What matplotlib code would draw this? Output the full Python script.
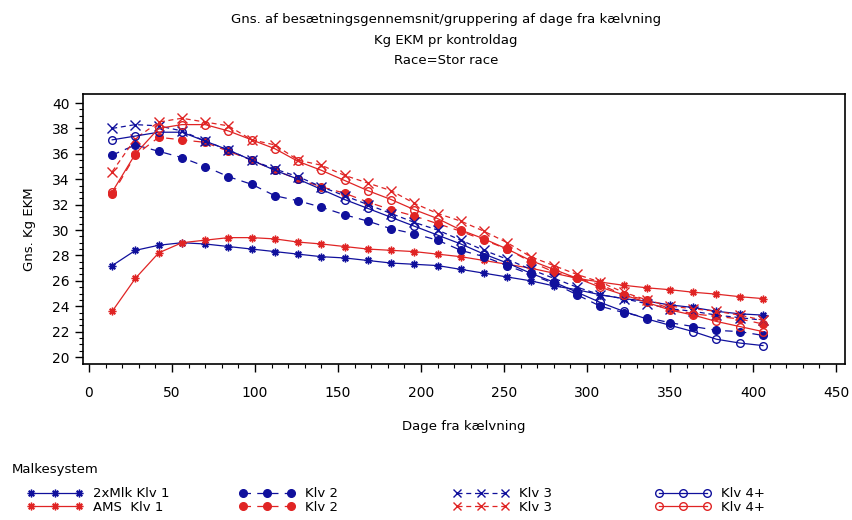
import numpy as np
import matplotlib
matplotlib.use("Agg")
import matplotlib.pyplot as plt
from matplotlib.lines import Line2D

# dage fra kaelvning (hver 14. dag)
dage = np.arange(14, 407, 14)

mlk_klv1 = [27.2, 28.4, 28.8, 29.0, 28.9, 28.7, 28.5, 28.3, 28.1, 27.9, 27.8, 27.6, 27.4, 27.3, 27.2,
            26.9, 26.6, 26.3, 26.0, 25.6, 25.3, 24.9, 24.6, 24.4, 24.1, 23.9, 23.6, 23.4, 23.3]
ams_klv1 = [23.6, 26.2, 28.2, 29.0, 29.2, 29.4, 29.4, 29.3, 29.05, 28.9, 28.7, 28.5, 28.4, 28.3, 28.1,
            27.9, 27.6, 27.3, 27.0, 26.6, 26.2, 25.9, 25.65, 25.45, 25.3, 25.1, 24.95, 24.75, 24.6]
mlk_klv2 = [35.9, 36.7, 36.2, 35.7, 35.0, 34.2, 33.6, 32.7, 32.3, 31.8, 31.2, 30.7, 30.1, 29.7, 29.2,
            28.4, 27.9, 27.2, 26.5, 25.8, 24.9, 24.0, 23.5, 23.1, 22.7, 22.4, 22.1, 22.0, 21.7]
ams_klv2 = [32.8, 35.9, 37.3, 37.1, 36.9, 36.2, 35.5, 34.7, 34.0, 33.4, 32.9, 32.2, 31.6, 31.1, 30.5,
            29.9, 29.2, 28.5, 27.5, 26.7, 26.2, 25.7, 24.9, 24.5, 23.8, 23.4, 23.2, 23.0, 22.6]
mlk_klv3 = [38.0, 38.3, 38.2, 37.8, 37.0, 36.3, 35.5, 34.8, 34.2, 33.4, 32.7, 32.0, 31.3, 30.6, 30.0,
            29.2, 28.4, 27.7, 26.9, 26.2, 25.5, 24.9, 24.6, 24.2, 23.8, 23.6, 23.3, 23.1, 22.9]
ams_klv3 = [34.6, 37.2, 38.5, 38.8, 38.5, 38.2, 37.1, 36.7, 35.5, 35.1, 34.3, 33.7, 33.1, 32.1, 31.3,
            30.7, 29.9, 29.0, 27.9, 27.2, 26.5, 25.9, 25.1, 24.5, 24.0, 23.8, 23.6, 23.3, 22.9]
mlk_klv4 = [37.1, 37.4, 37.7, 37.7, 37.0, 36.3, 35.5, 34.7, 34.0, 33.2, 32.4, 31.7, 31.0, 30.3, 29.6,
            28.9, 28.1, 27.4, 26.6, 25.9, 25.1, 24.3, 23.6, 23.0, 22.5, 22.0, 21.4, 21.1, 20.9]
ams_klv4 = [33.0, 36.0, 38.0, 38.3, 38.3, 37.8, 37.1, 36.4, 35.4, 34.7, 33.9, 33.1, 32.4, 31.6, 30.9,
            30.0, 29.3, 28.5, 27.6, 26.9, 26.2, 25.5, 24.9, 24.3, 23.7, 23.3, 22.8, 22.4, 22.0]

blaa = "#10109c"
roed = "#e02424"
stjerne = (8, 2, 0)

serier = [
    (mlk_klv1, blaa, "-", stjerne, True, "2xMlk Klv 1"),
    (ams_klv1, roed, "-", stjerne, True, "AMS  Klv 1"),
    (mlk_klv2, blaa, (0, (6, 5)), "o", True, "Klv 2"),
    (ams_klv2, roed, (0, (6, 5)), "o", True, "Klv 2"),
    (mlk_klv3, blaa, (0, (4, 3)), "x", True, "Klv 3"),
    (ams_klv3, roed, (0, (4, 3)), "x", True, "Klv 3"),
    (mlk_klv4, blaa, "-", "o", False, "Klv 4+"),
    (ams_klv4, roed, "-", "o", False, "Klv 4+"),
]

fig = plt.figure(figsize=(8.53, 5.2), dpi=100)
ax = fig.add_axes([0.0973, 0.30, 0.8933, 0.519])

for vaerdier, farve, stil, mk, fyldt, navn in serier:
    ax.plot(dage, vaerdier, color=farve, linestyle=stil, linewidth=0.9,
            marker=mk, markersize=5.5 if mk != "x" else 6.5,
            markerfacecolor=farve if fyldt else "none",
            markeredgecolor=farve, markeredgewidth=1.0)

ax.set_xlim(-3.6, 455.4)
ax.set_ylim(19.45, 40.7)
ax.set_xticks(np.arange(0, 451, 50))
ax.set_xticks(np.arange(0, 451, 10), minor=True)
ax.set_yticks(np.arange(20, 41, 2))
ax.set_yticks(np.arange(20, 40.5, 0.5), minor=True)
ax.tick_params(axis="both", which="major", direction="out", length=6, width=1, labelsize=10)
ax.tick_params(axis="both", which="minor", direction="out", length=3, width=0.8)
ax.tick_params(axis="x", pad=10)
for s in ax.spines.values():
    s.set_linewidth(1.2)

ax.set_xlabel("Dage fra kælvning", fontsize=9.5, labelpad=14)
ax.set_ylabel("Gns. Kg EKM", fontsize=9.5, labelpad=12)

fig.text(0.523, 0.962, "Gns. af besætningsgennemsnit/gruppering af dage fra kælvning",
         ha="center", va="center", fontsize=9.5)
fig.text(0.523, 0.923, "Kg EKM pr kontroldag", ha="center", va="center", fontsize=9.5)
fig.text(0.523, 0.884, "Race=Stor race", ha="center", va="center", fontsize=9.5)

fig.text(12 / 853, 1 - 470 / 520, "Malkesystem", ha="left", va="center", fontsize=9.5)

# forklaring: fire kolonner med to raekker hver
kolonne_x = [22, 234, 448, 650]
for k in range(4):
    handles = []
    navne = []
    for vaerdier, farve, stil, mk, fyldt, navn in serier[2 * k:2 * k + 2]:
        handles.append(Line2D([], [], color=farve, linestyle=stil, linewidth=0.9, marker=mk,
                              markersize=5.5, markerfacecolor=farve if fyldt else "none",
                              markeredgecolor=farve))
        navne.append(navn)
    leg = fig.legend(handles, navne, loc="upper left",
                     bbox_to_anchor=(kolonne_x[k] / 853, 1 - 482 / 520), frameon=False,
                     fontsize=9.5, numpoints=3, handlelength=4.2,
                     labelspacing=0.05, handletextpad=0.8, borderaxespad=0)

fig.savefig("out.png", dpi=100)
